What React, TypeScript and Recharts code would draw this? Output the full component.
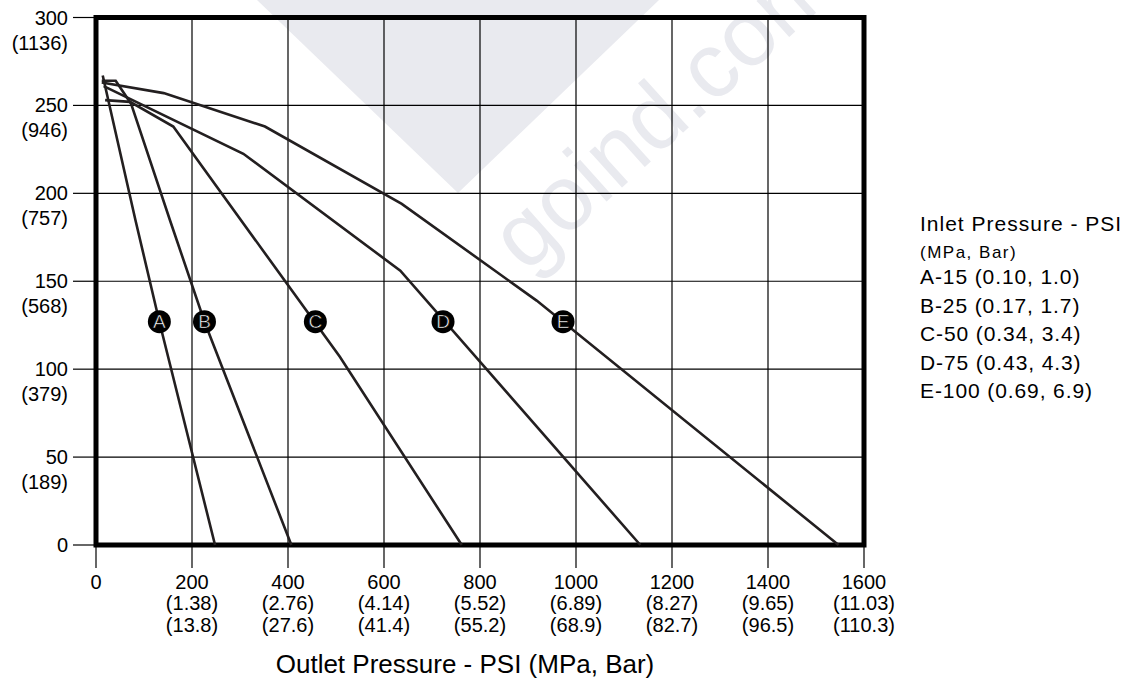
import React from 'react'
import {
  CartesianGrid,
  ComposedChart,
  Label,
  Line,
  ReferenceArea,
  Scatter,
  XAxis,
  YAxis
} from 'recharts'

// outlet pressure ticks (psi) with MPa / bar equivalents
const xTickPsi = [0, 200, 400, 600, 800, 1000, 1200, 1400, 1600]
const xTickMpa = ['', '1.38', '2.76', '4.14', '5.52', '6.89', '8.27', '9.65', '11.03']
const xTickBar = ['', '13.8', '27.6', '41.4', '55.2', '68.9', '82.7', '96.5', '110.3']

// flow ticks, with the second unit underneath
const yTickMain = [0, 50, 100, 150, 200, 250, 300]
const yTickAlt = ['', '189', '379', '568', '757', '946', '1136']

// curves: [outlet psi, flow]
const curveA: [number, number][] = [[14, 267], [82, 185], [132, 127], [248, 0]]
const curveB: [number, number][] = [[12, 264], [41, 264], [73, 251], [155, 184], [226, 127], [407, 0]]
const curveC: [number, number][] = [[19, 253], [71, 252], [161, 238], [508, 107], [762, 0]]
const curveD: [number, number][] = [[16, 261], [307, 222.5], [634, 156], [1134, 0]]
const curveE: [number, number][] = [[12, 263], [141, 257], [352, 238], [637, 194], [918, 139], [1547, 0]]

// circled letters sitting on each curve
const markerLetters = ['A', 'B', 'C', 'D', 'E']
const markerX = [132, 226, 457, 723, 973]
const markerY = [127, 127, 127, 127, 127]

const legendTitle = 'Inlet Pressure - PSI'
const legendUnits = '(MPa, Bar)'
const legendRows = [
  'A-15 (0.10, 1.0)',
  'B-25 (0.17, 1.7)',
  'C-50 (0.34, 3.4)',
  'D-75 (0.43, 4.3)',
  'E-100 (0.69, 6.9)'
]
const xTitle = 'Outlet Pressure - PSI (MPa, Bar)'

const FONT = '"Liberation Sans", Arial, Helvetica, sans-serif'
const INK = '#231f20'
const WATERMARK = '#e9eaef'

const toRows = (pts: [number, number][]) => pts.map(([x, y]) => ({ x, y }))
const curves = [curveA, curveB, curveC, curveD, curveE].map(toRows)
const markers = markerLetters.map((letter, i) => ({ x: markerX[i], y: markerY[i], letter }))

function XTick(props: any) {
  const { x, y, payload } = props
  const i = xTickPsi.indexOf(payload.value)
  return (
    <g fontFamily={FONT} fontSize={20} fill="#000">
      <text x={x} y={y + 21} textAnchor="middle">{payload.value}</text>
      {xTickMpa[i] && (
        <>
          <text x={x} y={y + 42} textAnchor="middle">({xTickMpa[i]})</text>
          <text x={x} y={y + 64} textAnchor="middle">({xTickBar[i]})</text>
        </>
      )}
    </g>
  )
}

function YTick(props: any) {
  const { x, y, payload } = props
  const i = yTickMain.indexOf(payload.value)
  return (
    <g fontFamily={FONT} fontSize={20} fill="#000">
      <text x={x} y={y + 7} textAnchor="end">{payload.value}</text>
      {yTickAlt[i] && (
        <text x={x} y={y + 32} textAnchor="end">({yTickAlt[i]})</text>
      )}
    </g>
  )
}

function AxisTitle(props: any) {
  const vb = props.viewBox || { x: 96, y: 545, width: 768 }
  return (
    <text
      x={vb.x + vb.width / 2 - 15}
      y={vb.y + 128}
      textAnchor="middle"
      fontFamily={FONT}
      fontSize={26}
      fill="#000"
    >
      {xTitle}
    </text>
  )
}

function CircledLetter(props: any) {
  const { cx, cy, payload } = props
  return (
    <g>
      <circle cx={cx} cy={cy} r={11.5} fill="#000" />
      <text
        x={cx}
        y={cy + 6.5}
        textAnchor="middle"
        fontFamily={FONT}
        fontSize={19}
        fill="#fff"
        stroke="#000"
        strokeWidth={0.6}
      >
        {payload.letter}
      </text>
    </g>
  )
}

export default function App() {
  return (
    <div style={{ position: 'absolute', left: 0, top: 0, width: 1139, height: 681, background: '#fff', overflow: 'hidden' }}>
      {/* faint watermark behind the grid */}
      <svg width={1139} height={681} style={{ position: 'absolute', left: 0, top: 0 }}>
        <polygon points="257,0 659,0 458,193" fill={WATERMARK} />
        <text x={526} y={274} transform="rotate(-42 526 274)" fontFamily={FONT} fontSize={92} fill={WATERMARK}>
          goind.com
        </text>
      </svg>

      <div style={{ position: 'absolute', left: 0, top: 0 }}>
        <ComposedChart width={1139} height={681} margin={{ top: 17.5, right: 275, bottom: 0, left: 0 }}>
          <CartesianGrid stroke="#000" strokeWidth={1.2} />
          <XAxis
            dataKey="x"
            type="number"
            domain={[0, 1600]}
            ticks={xTickPsi}
            interval={0}
            height={136}
            tickSize={23}
            tickMargin={0}
            axisLine={false}
            tickLine={{ stroke: '#000', strokeWidth: 1.2 }}
            tick={(p: any) => <XTick {...p} />}
          >
            <Label content={(p: any) => <AxisTitle {...p} />} />
          </XAxis>
          <YAxis
            type="number"
            domain={[0, 300]}
            ticks={yTickMain}
            interval={0}
            width={96}
            tickSize={23}
            tickMargin={5}
            axisLine={false}
            tickLine={{ stroke: '#000', strokeWidth: 1.2 }}
            tick={(p: any) => <YTick {...p} />}
          />
          {curves.map((rows, i) => (
            <Line
              key={markerLetters[i]}
              data={rows}
              dataKey="y"
              type="linear"
              stroke={INK}
              strokeWidth={2.6}
              dot={false}
              activeDot={false}
              isAnimationActive={false}
            />
          ))}
          <ReferenceArea x1={0} x2={1600} y1={0} y2={300} fill="none" stroke="#000" strokeWidth={5} />
          <Scatter data={markers} dataKey="y" shape={(p: any) => <CircledLetter {...p} />} isAnimationActive={false} />
        </ComposedChart>
      </div>

      {/* legend block on the right */}
      <svg width={1139} height={681} style={{ position: 'absolute', left: 0, top: 0, pointerEvents: 'none' }}>
        <g fontFamily={FONT} fill="#000">
          <text x={920} y={231} fontSize={21} letterSpacing={1}>{legendTitle}</text>
          <text x={920} y={258} fontSize={17} letterSpacing={1.5}>{legendUnits}</text>
          {legendRows.map((row, i) => (
            <text key={row} x={920} y={284 + i * 28.5} fontSize={21} letterSpacing={0.9}>{row}</text>
          ))}
        </g>
      </svg>
    </div>
  )
}
